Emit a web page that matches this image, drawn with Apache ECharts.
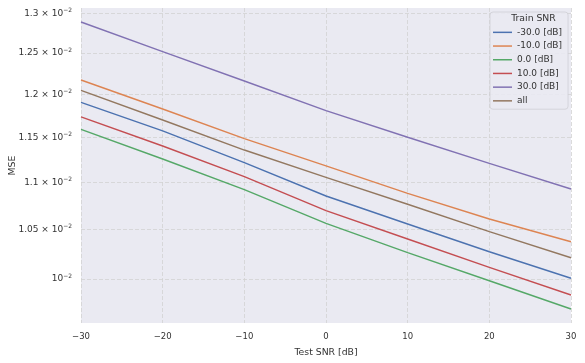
<!DOCTYPE html>
<html>
<head>
<meta charset="utf-8">
<script src="https://cdn.jsdelivr.net/npm/echarts@6/dist/echarts.min.js"></script>
<style>
  html, body { margin: 0; padding: 0; background: #fff; }
  #chart { width: 585px; height: 363px; }
</style>
</head>
<body>
<div id="chart"></div>
<script>
// test SNR points [dB]
var testSnr = [-30, -20, -10, 0, 10, 20, 30];

// MSE per train SNR
var mseTrainM30 = [0.011906, 0.011574, 0.011217, 0.010854, 0.010558, 0.010273, 0.010007];
var mseTrainM10 = [0.012171, 0.011828, 0.011486, 0.011181, 0.010883, 0.010610, 0.010375];
var mseTrain0   = [0.011593, 0.011258, 0.010922, 0.010565, 0.010263, 0.009983, 0.009708];
var mseTrain10  = [0.011735, 0.011403, 0.011063, 0.010698, 0.010403, 0.010116, 0.009843];
var mseTrain30  = [0.012889, 0.012517, 0.012159, 0.011808, 0.011502, 0.011210, 0.010929];
var mseAll      = [0.012048, 0.011700, 0.011358, 0.011056, 0.010766, 0.010478, 0.010212];

var seriesNames = ['-30.0 [dB]', '-10.0 [dB]', '0.0 [dB]', '10.0 [dB]', '30.0 [dB]', 'all'];
var seriesData = [mseTrainM30, mseTrainM10, mseTrain0, mseTrain10, mseTrain30, mseAll];
var colorArr = ['#4C72B0', '#DD8452', '#55A868', '#C44E52', '#8172B3', '#937860'];

// y ticks (log axis), shown as mantissa x 10^-2
var yTickValues = [0.0100, 0.0105, 0.0110, 0.0115, 0.0120, 0.0125, 0.0130];
var yTickMantissa = ['', '1.05', '1.1', '1.15', '1.2', '1.25', '1.3'];
var yTickExp = '\u22122';

var FONT = 'DejaVu Sans';
var chart = echarts.init(document.getElementById('chart'));

var series = [];
for (var i = 0; i < seriesNames.length; i++) {
    var pts = [];
    for (var j = 0; j < testSnr.length; j++) {
        pts.push([testSnr[j], seriesData[i][j]]);
    }
    series.push({
        name: seriesNames[i],
        type: 'line',
        data: pts,
        symbol: 'none',
        lineStyle: { width: 1.4, color: colorArr[i] },
        itemStyle: { color: colorArr[i] },
        emphasis: { disabled: true }
    });
}

function yLabel(v) {
    for (var k = 0; k < yTickValues.length; k++) {
        if (Math.abs(yTickValues[k] - v) < 1e-7) {
            var txt = yTickMantissa[k] ? yTickMantissa[k] + ' \u00d7 10' : '10';
            return '{b|' + txt + '}{s|' + yTickExp + '}';
        }
    }
    return '';
}

var gridLine = { color: '#d2d2d2', type: [4, 2], width: 0.8 };

var option = {
    animation: false,
    color: colorArr,
    textStyle: { fontFamily: FONT },
    title: {
        text: 'Train SNR',
        left: 528.5,
        top: 9.5,
        textAlign: 'center',
        textStyle: { fontSize: 9.3, fontWeight: 'normal', color: '#333', fontFamily: FONT }
    },
    legend: {
        data: seriesNames,
        orient: 'vertical',
        left: 490,
        top: 12,
        width: 77,
        padding: [14.5, 6, 2.5, 3],
        itemWidth: 19,
        itemHeight: 1.5,
        itemGap: 2,
        icon: 'rect',
        backgroundColor: 'rgba(234,234,242,0.85)',
        borderColor: '#cfcfd6',
        borderWidth: 0.8,
        borderRadius: 3,
        textStyle: { fontSize: 9, color: '#333', fontFamily: FONT, lineHeight: 11.7 }
    },
    grid: {
        left: 81,
        right: 14,
        top: 8,
        bottom: 40,
        containLabel: false,
        outerBoundsMode: 'none',
        show: true,
        backgroundColor: '#EAEAF2',
        borderWidth: 0
    },
    xAxis: {
        type: 'value',
        min: -30,
        max: 30,
        interval: 10,
        name: 'Test SNR [dB]',
        nameLocation: 'middle',
        nameGap: 25,
        nameMoveOverlap: false,
        nameTextStyle: { fontSize: 9.3, color: '#333', fontFamily: FONT },
        axisLine: { show: false },
        axisTick: { show: false },
        axisLabel: {
            fontSize: 8.5,
            color: '#333',
            margin: 9,
            fontFamily: FONT,
            formatter: function (v) { return v < 0 ? '\u2212' + (-v) : String(v); }
        },
        splitLine: { show: true, lineStyle: gridLine }
    },
    yAxis: {
        type: 'log',
        logBase: 10,
        min: 0.0095748,
        max: 0.013068,
        name: 'MSE',
        nameLocation: 'middle',
        nameGap: 64,
        nameMoveOverlap: false,
        nameTextStyle: { fontSize: 9.3, color: '#333', fontFamily: FONT },
        axisLine: { show: false },
        axisTick: { show: false, customValues: yTickValues },
        axisLabel: {
            show: true,
            customValues: yTickValues,
            margin: 9,
            color: '#333',
            formatter: yLabel,
            rich: {
                b: { fontSize: 9, fontFamily: FONT, color: '#333' },
                s: { fontSize: 6, fontFamily: FONT, color: '#333', padding: [0, 0, 6, 0] }
            }
        },
        splitLine: { show: true, lineStyle: gridLine }
    },
    series: series
};

chart.setOption(option);
</script>
</body>
</html>
